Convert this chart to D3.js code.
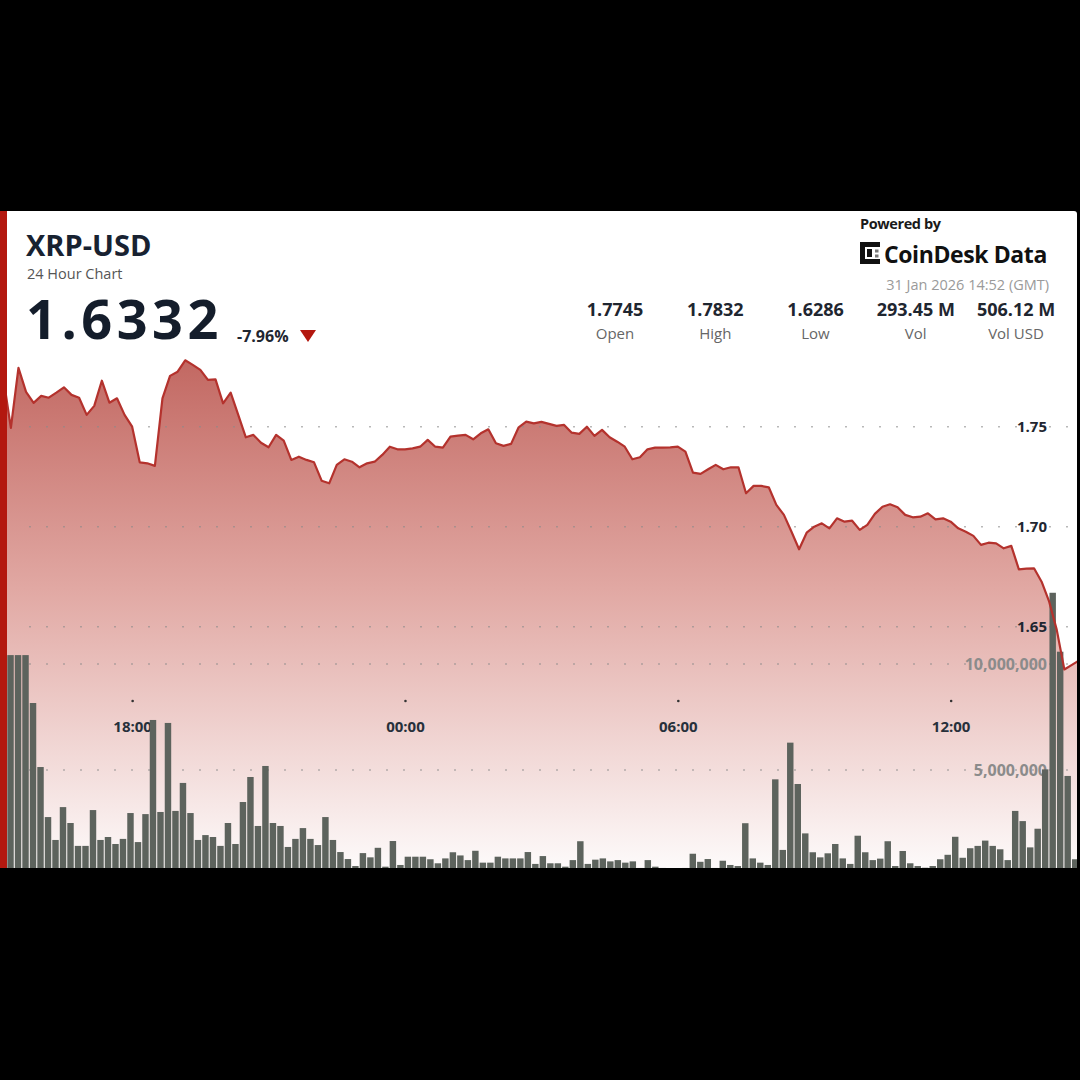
<!DOCTYPE html>
<html>
<head>
<meta charset="utf-8">
<script src="https://cdn.jsdelivr.net/npm/d3@7"></script>
<style>
  html, body { margin: 0; padding: 0; background: #000; }
  svg { display: block; font-family: "Open Sans", sans-serif; }
</style>
</head>
<body>
<div id="chart"></div>
<script>
// 10-minute samples, starting 30 Jan 2026 15:10 GMT
const priceValues = [
  1.7745, 1.7494, 1.7794, 1.7674, 1.7619, 1.7654, 1.7645, 1.7670, 1.7697, 1.7659,
  1.7645, 1.7559, 1.7604, 1.7730, 1.7620, 1.7642, 1.7559, 1.7500, 1.7322, 1.7317,
  1.7304, 1.7642, 1.7754, 1.7775, 1.7832, 1.7809, 1.7784, 1.7734, 1.7737, 1.7617,
  1.7670, 1.7559, 1.7447, 1.7459, 1.7420, 1.7397, 1.7459, 1.7430, 1.7334, 1.7350,
  1.7334, 1.7322, 1.7230, 1.7217, 1.7309, 1.7337, 1.7325, 1.7297,
  1.7317, 1.7325, 1.7359, 1.7400, 1.7387, 1.7387, 1.7392, 1.7400, 1.7434, 1.7400,
  1.7395, 1.7450, 1.7455, 1.7459, 1.7437, 1.7467, 1.7487, 1.7417, 1.7404, 1.7414,
  1.7497, 1.7525, 1.7517, 1.7524, 1.7514, 1.7504, 1.7509, 1.7470, 1.7464, 1.7500,
  1.7454, 1.7484, 1.7447, 1.7425, 1.7400, 1.7337, 1.7347, 1.7387, 1.7395, 1.7395,
  1.7397, 1.7400, 1.7375, 1.7270, 1.7264, 1.7287, 1.7309, 1.7287,
  1.7297, 1.7297, 1.7167, 1.7204, 1.7204, 1.7197, 1.7109, 1.7059, 1.6975, 1.6887,
  1.6970, 1.7000, 1.7017, 1.6992, 1.7042, 1.7025, 1.7030, 1.6984, 1.7009, 1.7064,
  1.7100, 1.7112, 1.7097, 1.7059, 1.7047, 1.7050, 1.7067, 1.7037, 1.7042, 1.7025,
  1.6992, 1.6975, 1.6954, 1.6909, 1.6920, 1.6917, 1.6892, 1.6904, 1.6787, 1.6790,
  1.6792, 1.6725, 1.6625, 1.6484, 1.6286, 1.6309, 1.6332
];

// volume per bar, millions
const volumeValues = [
  10.42, 10.42, 10.42, 8.16, 5.14, 2.78, 1.70, 3.25, 2.50, 1.42,
  1.42, 3.11, 1.70, 1.84, 1.51, 1.75, 2.97, 1.60, 2.92, 7.36,
  3.02, 7.22, 3.07, 4.39, 2.97, 1.70, 1.93, 1.84, 1.42, 2.50,
  1.51, 3.49, 4.67, 2.36, 5.19, 2.50, 2.36, 1.37, 1.75, 2.26,
  1.75, 1.46, 2.78, 1.70, 1.13, 0.80, 0.47, 1.08,
  0.88, 1.33, 0.44, 1.65, 0.52, 0.91, 0.91, 0.91, 0.79, 0.60,
  0.83, 1.12, 0.97, 0.75, 1.19, 0.63, 0.63, 0.91, 0.83, 0.83,
  0.83, 1.13, 0.57, 0.94, 0.60, 0.60, 0.44, 0.75, 1.64, 0.57,
  0.77, 0.83, 0.69, 0.75, 0.63, 0.69, 0.38, 0.75, 0.44, 0.38,
  0.15, 0.15, 0.38, 1.05, 0.67, 0.80, 0.38, 0.72,
  0.52, 0.47, 2.49, 0.83, 0.63, 0.52, 4.56, 1.23, 6.29, 4.34,
  2.01, 1.12, 0.88, 1.07, 1.51, 0.83, 0.57, 1.90, 1.12, 0.75,
  0.82, 1.64, 0.47, 1.18, 0.60, 0.47, 0.39, 0.47, 0.79, 1.00,
  1.85, 0.86, 1.31, 1.42, 1.67, 1.42, 1.26, 0.75, 3.07, 2.59,
  1.35, 2.23, 5.03, 13.36, 10.58, 4.72, 0.79
];

const priceTicks = [1.65, 1.70, 1.75];
const volumeTicks = [5000000, 10000000];
const timeTicks = [
  new Date(Date.UTC(2026, 0, 30, 18)),
  new Date(Date.UTC(2026, 0, 31, 0)),
  new Date(Date.UTC(2026, 0, 31, 6)),
  new Date(Date.UTC(2026, 0, 31, 12))
];

const statLabels = ['Open', 'High', 'Low', 'Vol', 'Vol USD'];
const statValues = ['1.7745', '1.7832', '1.6286', '293.45 M', '506.12 M'];

const startTime = Date.UTC(2026, 0, 30, 15, 10);
const times = priceValues.map((d, i) => new Date(startTime + i * 10 * 60 * 1000));

const svg = d3.select('#chart').append('svg')
  .attr('width', 1080)
  .attr('height', 1080);

svg.append('rect').attr('width', 1080).attr('height', 1080).attr('fill', '#000');

// card
svg.append('rect')
  .attr('x', 0).attr('y', 211)
  .attr('width', 1077).attr('height', 657)
  .attr('rx', 3)
  .attr('fill', '#fff');

const defs = svg.append('defs');
defs.append('clipPath').attr('id', 'plot')
  .append('rect').attr('x', 7).attr('y', 211).attr('width', 1070).attr('height', 657);

const grad = defs.append('linearGradient')
  .attr('id', 'fillGrad')
  .attr('gradientUnits', 'userSpaceOnUse')
  .attr('x1', 0).attr('y1', 360).attr('x2', 0).attr('y2', 868);
grad.append('stop').attr('offset', 0).attr('stop-color', 'rgb(194,104,98)');
grad.append('stop').attr('offset', 0.45).attr('stop-color', 'rgb(225,168,163)');
grad.append('stop').attr('offset', 1).attr('stop-color', 'rgb(253,250,250)');

const x = d3.scaleUtc()
  .domain([times[0], times[times.length - 1]])
  .range([3.3, 1079.5]);

const y = d3.scaleLinear().domain([1.65, 1.75]).range([626.7, 426.7]);
const yVol = d3.scaleLinear().domain([0, 10000000]).range([876, 664]);

const xBar = d3.scaleBand()
  .domain(d3.range(volumeValues.length))
  .range([7.3, 1078.4])
  .paddingInner(0.14);

const plot = svg.append('g').attr('clip-path', 'url(#plot)');

// area under price
plot.append('path')
  .datum(priceValues)
  .attr('fill', 'url(#fillGrad)')
  .attr('d', d3.area()
    .x((d, i) => x(times[i]))
    .y0(868)
    .y1(d => y(d)));

// dotted grid lines
const gridYs = priceTicks.map(d => y(d)).concat(volumeTicks.map(d => yVol(d)));
plot.selectAll('.grid')
  .data(gridYs)
  .enter().append('line')
  .attr('class', 'grid')
  .attr('x1', 29.2).attr('x2', 1077)
  .attr('y1', d => d).attr('y2', d => d)
  .attr('stroke', '#8a8a8a')
  .attr('stroke-opacity', 0.75)
  .attr('stroke-width', 1.6)
  .attr('stroke-dasharray', '1.6 15.4');

// price axis labels
const priceAxis = plot.append('g')
  .attr('transform', 'translate(1047,0)')
  .call(d3.axisLeft(y).tickValues(priceTicks).tickFormat(d3.format('.2f')).tickSize(0).tickPadding(0));
priceAxis.select('.domain').remove();
priceAxis.selectAll('text')
  .attr('fill', '#1f2630')
  .style('font-family', '"Open Sans", sans-serif')
  .style('font-size', '15px')
  .style('font-weight', 700);

// volume axis labels
const volAxis = plot.append('g')
  .attr('transform', 'translate(1047,0)')
  .call(d3.axisLeft(yVol).tickValues(volumeTicks).tickFormat(d3.format(',')).tickSize(0).tickPadding(0));
volAxis.select('.domain').remove();
volAxis.selectAll('text')
  .attr('fill', '#8b8b8b')
  .style('font-family', '"Open Sans", sans-serif')
  .style('font-size', '16px')
  .style('font-weight', 700);

// time axis
const timeAxis = plot.append('g')
  .attr('transform', 'translate(0,701)')
  .call(d3.axisBottom(x).tickValues(timeTicks).tickFormat(d3.utcFormat('%H:%M')).tickSize(0));
timeAxis.select('.domain').remove();
timeAxis.selectAll('.tick').append('circle').attr('r', 1.3).attr('fill', '#333');
timeAxis.selectAll('text')
  .attr('y', 31).attr('dy', 0)
  .attr('fill', '#27303b')
  .style('font-family', '"Open Sans", sans-serif')
  .style('font-size', '15px')
  .style('font-weight', 700);

// volume bars
plot.selectAll('.bar')
  .data(volumeValues)
  .enter().append('rect')
  .attr('class', 'bar')
  .attr('x', (d, i) => xBar(i))
  .attr('width', xBar.bandwidth())
  .attr('y', d => yVol(d * 1000000))
  .attr('height', d => yVol(0) - yVol(d * 1000000))
  .attr('fill', '#5d635d');

// price line
plot.append('path')
  .datum(priceValues)
  .attr('fill', 'none')
  .attr('stroke', '#b4322d')
  .attr('stroke-width', 2.2)
  .attr('stroke-linejoin', 'round')
  .attr('d', d3.line()
    .x((d, i) => x(times[i]))
    .y(d => y(d)));

// left accent bar
svg.append('rect')
  .attr('x', 0).attr('y', 211)
  .attr('width', 7).attr('height', 657)
  .attr('fill', '#b3180f');

// header, left
svg.append('text')
  .attr('x', 26).attr('y', 256)
  .attr('fill', '#182231')
  .style('font-size', '29px').style('font-weight', 700)
  .text('XRP-USD');

svg.append('text')
  .attr('x', 27).attr('y', 279)
  .attr('fill', '#555')
  .style('font-size', '14.5px')
  .text('24 Hour Chart');

svg.append('text')
  .attr('x', 26).attr('y', 339)
  .attr('fill', '#141d2b')
  .style('font-size', '54px').style('font-weight', 700)
  .style('letter-spacing', '4.5px')
  .text('1.6332');

svg.append('text')
  .attr('x', 237).attr('y', 342)
  .attr('fill', '#1f2630')
  .style('font-size', '16px').style('font-weight', 700)
  .text('-7.96%');

svg.append('path')
  .attr('d', 'M300,330 L316,330 L308,342 Z')
  .attr('fill', '#b3180f');

// header, right
svg.append('text')
  .attr('x', 860).attr('y', 229)
  .attr('fill', '#1a1a1a')
  .style('font-size', '14.5px').style('font-weight', 700)
  .style('letter-spacing', '-0.4px')
  .text('Powered by');

const logo = svg.append('g').attr('transform', 'translate(860,242)');
logo.append('rect').attr('x', 0).attr('y', 0).attr('width', 5).attr('height', 22).attr('fill', '#111');
logo.append('rect').attr('x', 0).attr('y', 0).attr('width', 20).attr('height', 5).attr('fill', '#111');
logo.append('rect').attr('x', 0).attr('y', 17).attr('width', 20).attr('height', 5).attr('fill', '#111');
logo.append('rect').attr('x', 7).attr('y', 7).attr('width', 5).attr('height', 8).attr('fill', '#111');
logo.append('rect').attr('x', 15).attr('y', 7.5).attr('width', 3.5).attr('height', 3).attr('fill', '#777');
logo.append('rect').attr('x', 15).attr('y', 12.5).attr('width', 3.5).attr('height', 3).attr('fill', '#777');

svg.append('text')
  .attr('x', 884).attr('y', 263)
  .attr('fill', '#111')
  .style('font-size', '23px').style('font-weight', 700)
  .style('letter-spacing', '-0.4px')
  .text('CoinDesk Data');

svg.append('text')
  .attr('x', 1049).attr('y', 290)
  .attr('text-anchor', 'end')
  .attr('fill', '#9a9a9a')
  .style('font-size', '14.5px')
  .text('31 Jan 2026 14:52 (GMT)');

// stats row
const statX = d3.scalePoint().domain(statLabels).range([615, 1016]);

svg.selectAll('.stat-value')
  .data(statLabels)
  .enter().append('text')
  .attr('class', 'stat-value')
  .attr('x', d => statX(d)).attr('y', 316)
  .attr('text-anchor', 'middle')
  .attr('fill', '#1f2630')
  .style('font-size', '18px').style('font-weight', 700)
  .text((d, i) => statValues[i]);

svg.selectAll('.stat-label')
  .data(statLabels)
  .enter().append('text')
  .attr('class', 'stat-label')
  .attr('x', d => statX(d)).attr('y', 339)
  .attr('text-anchor', 'middle')
  .attr('fill', '#666')
  .style('font-size', '15px')
  .text(d => d);
</script>
</body>
</html>
